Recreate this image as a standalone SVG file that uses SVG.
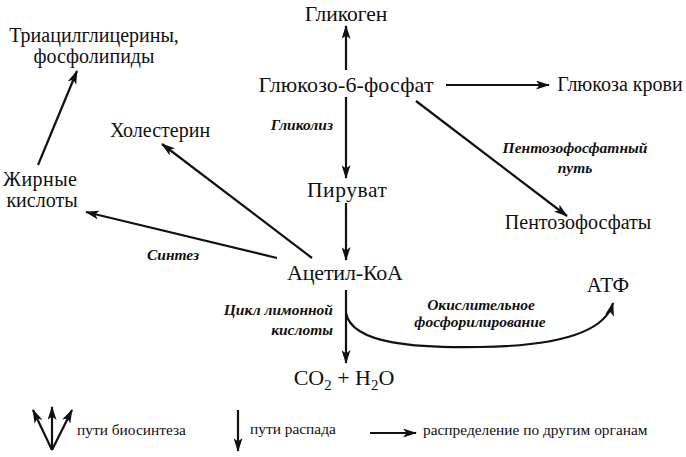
<svg xmlns="http://www.w3.org/2000/svg" width="686" height="457" viewBox="0 0 686 457">
<style>
.n{font-family:"Liberation Serif","DejaVu Serif",serif;font-size:20px;fill:#111;text-anchor:middle}
.p{font-family:"Liberation Serif","DejaVu Serif",serif;font-size:15.5px;font-style:italic;font-weight:bold;fill:#111}
.lg{font-family:"Liberation Serif","DejaVu Serif",serif;font-size:15.4px;fill:#111}
.c{stroke:#111;stroke-width:2.2;fill:none;marker-end:url(#ah)}
</style>
<defs>
<marker id="ah" viewBox="0 0 14 9" refX="13" refY="4.5" markerWidth="14" markerHeight="9" markerUnits="userSpaceOnUse" orient="auto">
<path d="M0,0 L14,4.5 L0,9 L3.5,4.5 z" fill="#111"/>
</marker>
</defs>
<rect width="686" height="457" fill="#fff"/>
<g id="n-glycogen"><text class="n" x="346" y="21" style="font-size:21.5px">Гликоген</text></g>
<g id="n-g6p"><text class="n" x="346" y="92" style="font-size:22px" textLength="175">Глюкозо-6-фосфат</text></g>
<g id="n-bloodglucose"><text class="n" x="620" y="91">Глюкоза крови</text></g>
<g id="n-pyruvate"><text class="n" x="347" y="197" style="font-size:21.5px" textLength="80">Пируват</text></g>
<g id="n-pentose"><text class="n" x="578" y="229">Пентозофосфаты</text></g>
<g id="n-acetylcoa"><text class="n" x="345" y="280" style="font-size:22px" textLength="116">Ацетил-КоА</text></g>
<g id="n-co2"><text class="n" x="344" y="385" style="font-size:22px">CO<tspan font-size="15" dy="5">2</tspan><tspan dy="-5"> + H</tspan><tspan font-size="15" dy="5">2</tspan><tspan dy="-5">O</tspan></text></g>
<g id="n-atp"><text class="n" x="608" y="292" style="font-size:21px">АТФ</text></g>
<g id="n-tag"><text class="n" x="94" y="42">Триацилглицерины,</text><text class="n" x="94" y="63">фосфолипиды</text></g>
<g id="n-chol"><text class="n" x="160" y="137">Холестерин</text></g>
<g id="n-fa"><text class="n" x="40" y="186" textLength="74">Жирные</text><text class="n" x="42" y="207">кислоты</text></g>
<g id="labels">
<text class="p" x="333" y="130" text-anchor="end">Гликолиз</text>
<text class="p" x="575" y="153" text-anchor="middle">Пентозофосфатный</text>
<text class="p" x="575" y="173" text-anchor="middle">путь</text>
<text class="p" x="173" y="260" text-anchor="middle">Синтез</text>
<text class="p" x="333" y="315" text-anchor="end">Цикл лимонной</text>
<text class="p" x="333" y="335" text-anchor="end">кислоты</text>
<text class="p" x="481" y="310" text-anchor="middle">Окислительное</text>
<text class="p" x="480" y="327" text-anchor="middle">фосфорилирование</text>
</g>
<g id="connectors">
<line class="c" x1="346" y1="70" x2="346" y2="26"/>
<line class="c" x1="346" y1="97" x2="346" y2="178"/>
<line class="c" x1="446" y1="85" x2="549" y2="85"/>
<line class="c" x1="416" y1="101" x2="567" y2="216"/>
<line class="c" x1="346" y1="203" x2="346" y2="260"/>
<line class="c" x1="346" y1="290" x2="346" y2="363"/>
<path class="c" d="M346,313 C352,345 420,348 480,347 C560,346 605,332 613,303"/>
<line class="c" x1="312" y1="258" x2="162" y2="144"/>
<line class="c" x1="277" y1="258" x2="86" y2="212"/>
<line class="c" x1="38" y1="165" x2="77" y2="71"/>
</g>
<g id="legend">
<line class="c" x1="52" y1="450" x2="33" y2="410"/>
<line class="c" x1="52" y1="450" x2="52" y2="407"/>
<line class="c" x1="52" y1="450" x2="72" y2="410"/>
<text class="lg" x="77" y="435">пути биосинтеза</text>
<line class="c" x1="238" y1="410" x2="238" y2="451"/>
<text class="lg" x="250" y="434">пути распада</text>
<line class="c" x1="370" y1="433" x2="416" y2="433"/>
<text class="lg" x="423" y="435">распределение по другим органам</text>
</g>
</svg>
